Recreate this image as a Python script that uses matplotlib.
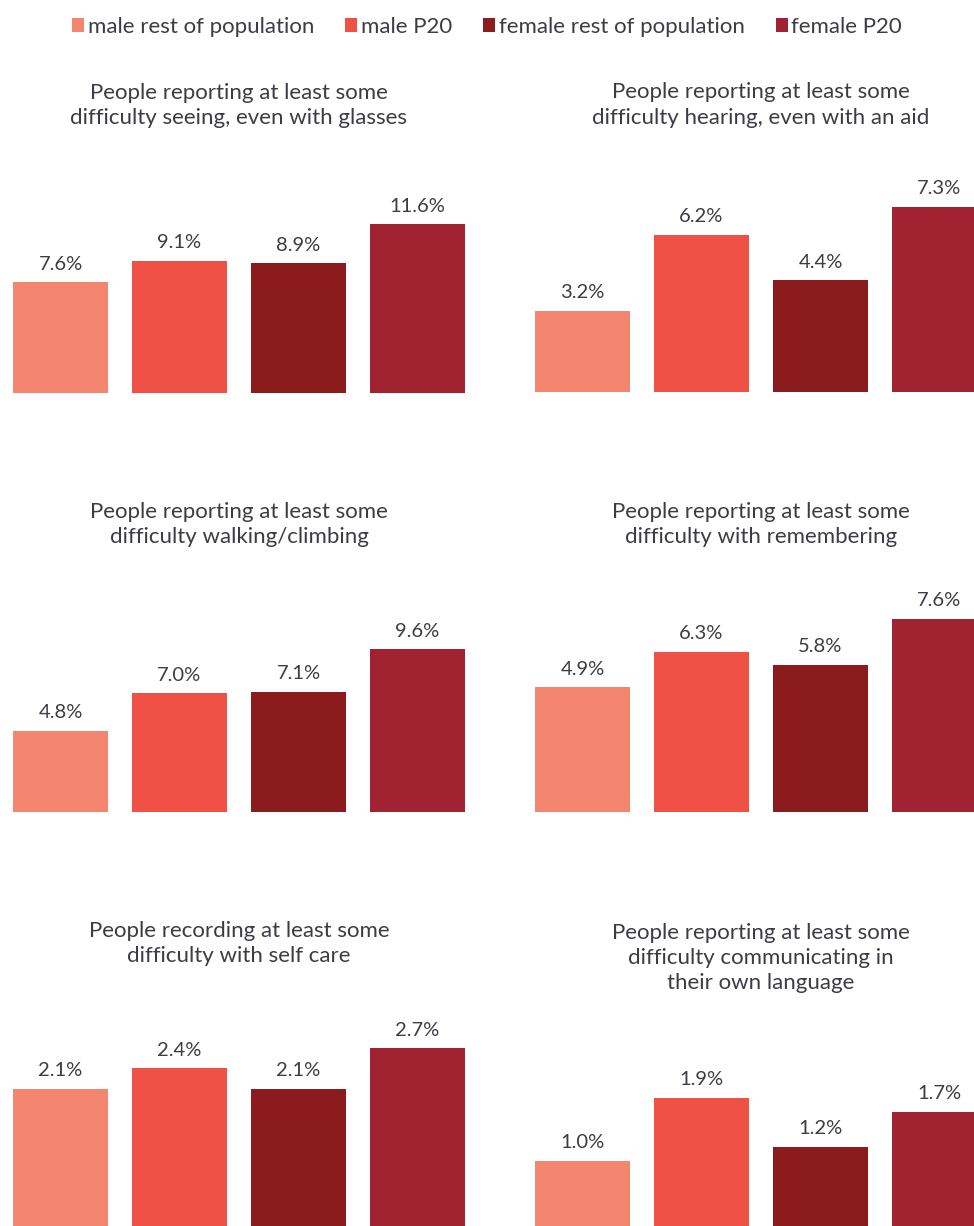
import matplotlib.pyplot as plt

plt.rcParams['font.family'] = ['Lato', 'DejaVu Sans']

# series (one bar per group in every panel)
groups = ["male rest of population", "male P20", "female rest of population", "female P20"]
colors = ["#F4866F", "#EF5245", "#8B1B1D", "#A12331"]

titles = [
    "People reporting at least some\ndifficulty seeing, even with glasses",
    "People reporting at least some\ndifficulty hearing, even with an aid",
    "People reporting at least some\ndifficulty walking/climbing",
    "People reporting at least some\ndifficulty with remembering",
    "People recording at least some\ndifficulty with self care",
    "People reporting at least some\ndifficulty communicating in\ntheir own language",
]

# percentages, in group order
seeing = [7.6, 9.1, 8.9, 11.6]
hearing = [3.2, 6.2, 4.4, 7.3]
walking = [4.8, 7.0, 7.1, 9.6]
remembering = [4.9, 6.3, 5.8, 7.6]
self_care = [2.1, 2.4, 2.1, 2.7]
communicating = [1.0, 1.9, 1.2, 1.7]

panels = [seeing, hearing, walking, remembering, self_care, communicating]

# layout in pixels: axes left, bar baseline, y max
W, H = 974, 1226
lefts = [1, 523, 1, 523, 1, 523]
baselines = [392.5, 392.0, 811.7, 811.7, 1230.7, 1230.7]
ymaxs = [14, 8, 12, 8, 3, 2.9]
ax_w, ax_h = 476, 203
line_px = 26.7

txt_color = "#3D3B45"

fig = plt.figure(figsize=(W / 100, H / 100), dpi=100)

handles = None
for i, vals in enumerate(panels):
    ax = fig.add_axes([lefts[i] / W, 1 - baselines[i] / H, ax_w / W, ax_h / H])
    bars = []
    for j, v in enumerate(vals):
        b = ax.bar(j, v, width=0.8, color=colors[j], label=groups[j])
        bars.append(b)
        ax.annotate(f"{v:.1f}%", (j, v), xytext=(0, 9), textcoords="offset points",
                    ha="center", va="baseline", fontsize=14.5, color=txt_color)
    if handles is None:
        handles = bars
    ax.set_xlim(-0.5, 3.5)
    ax.set_ylim(0, ymaxs[i])
    ax.axis("off")

    # panel title (baseline alignment uses the last line)
    nlines = titles[i].count("\n")
    y_last = baselines[i] - 295 + nlines * line_px
    fig.text((lefts[i] + 238) / W, 1 - y_last / H, titles[i],
             ha="center", va="baseline", fontsize=16, color=txt_color,
             linespacing=1.33)

fig.legend(handles, groups, loc="center", bbox_to_anchor=(0.5, 1 - 27 / H),
           ncol=4, frameon=False, fontsize=16, labelcolor=txt_color,
           handlelength=0.55, handleheight=0.55, handletextpad=0.15,
           columnspacing=1.4)

fig.savefig("out.png", dpi=100)
